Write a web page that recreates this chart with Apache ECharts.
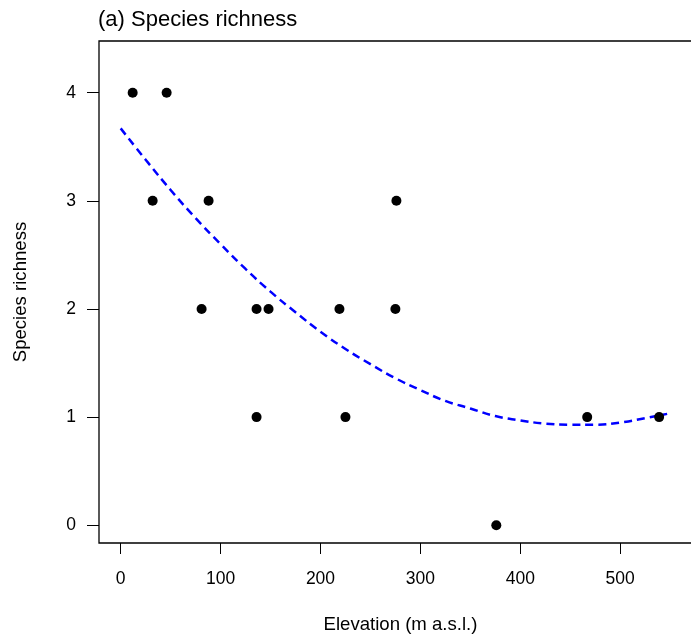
<!DOCTYPE html>
<html>
<head>
<meta charset="utf-8">
<script src="https://cdn.jsdelivr.net/npm/echarts@6/dist/echarts.min.js"></script>
<style>
  html, body { margin: 0; padding: 0; background: #fff; }
  #chart { width: 691px; height: 639px; }
</style>
</head>
<body>
<div id="chart"></div>
<script>
// observed sites
var elevation = [12, 46, 32, 88, 81, 136, 148, 219, 275, 276, 136, 225, 376, 467, 539];
var richness  = [4, 4, 3, 3, 2, 2, 2, 2, 2, 3, 1, 1, 0, 1, 1];

// fitted curve
var fitX = [0, 25, 50, 75, 100, 125, 150, 175, 200, 225, 250, 275, 300, 325, 350, 375, 400, 425, 450, 475, 500, 525, 547];
var fitY = [3.67, 3.38, 3.10, 2.84, 2.60, 2.37, 2.16, 1.97, 1.79, 1.63, 1.49, 1.36, 1.25, 1.15, 1.08, 1.01, 0.97, 0.94, 0.93, 0.93, 0.95, 0.99, 1.03];

var xTicks = [0, 100, 200, 300, 400, 500];
var yTicks = [0, 1, 2, 3, 4];

var font = "'Liberation Sans', Arial, Helvetica, sans-serif";

var myChart = echarts.init(document.getElementById('chart'));

var points = [];
for (var i = 0; i < elevation.length; i++) {
    points.push([elevation[i], richness[i]]);
}
var curve = [];
for (var j = 0; j < fitX.length; j++) {
    curve.push([fitX[j], fitY[j]]);
}

var option = {
    backgroundColor: '#fff',
    animation: false,
    title: {
        text: '(a) Species richness',
        left: 98,
        top: 9,
        padding: 0,
        textStyle: { fontFamily: font, fontSize: 22, fontWeight: 'normal', color: '#000' }
    },
    grid: {
        left: 99,
        top: 41,
        width: 603,
        height: 502,
        outerBoundsMode: 'none',
        containLabel: false,
        show: true,
        borderColor: '#000',
        borderWidth: 1.3,
        backgroundColor: 'transparent'
    },
    xAxis: {
        type: 'value',
        min: -21.7,
        max: 581.9,
        name: 'Elevation (m a.s.l.)',
        nameLocation: 'middle',
        nameGap: 72,
        nameTextStyle: { fontFamily: font, fontSize: 18.6, color: '#000' },
        axisLine: { show: false, onZero: false },
        axisTick: { show: true, length: 11, customValues: xTicks, lineStyle: { color: '#000', width: 1 } },
        axisLabel: { customValues: xTicks, margin: 27, fontFamily: font, fontSize: 17.5, color: '#000' },
        splitLine: { show: false }
    },
    yAxis: {
        type: 'value',
        min: -0.164,
        max: 4.478,
        name: 'Species richness',
        nameLocation: 'middle',
        nameGap: 69,
        nameTextStyle: { fontFamily: font, fontSize: 18.6, color: '#000' },
        axisLine: { show: false, onZero: false },
        axisTick: { show: true, length: 12, customValues: yTicks, lineStyle: { color: '#000', width: 1 } },
        axisLabel: { customValues: yTicks, margin: 23, fontFamily: font, fontSize: 17.5, color: '#000' },
        splitLine: { show: false }
    },
    series: [
        {
            name: 'fit',
            type: 'line',
            data: curve,
            smooth: true,
            showSymbol: false,
            lineStyle: { color: '#0000ff', width: 2.5, type: [8, 5] },
            z: 2
        },
        {
            name: 'sites',
            type: 'scatter',
            data: points,
            symbol: 'circle',
            symbolSize: 10,
            itemStyle: { color: '#000', opacity: 1 },
            z: 3
        }
    ]
};

myChart.setOption(option);
</script>
</body>
</html>
